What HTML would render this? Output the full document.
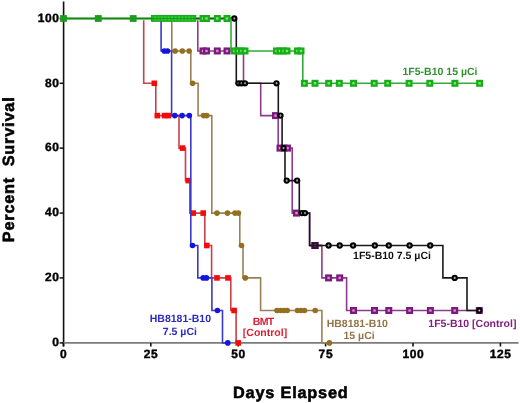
<!DOCTYPE html>
<html><head><meta charset="utf-8"><style>
html,body{margin:0;padding:0;background:#fff;}
svg{display:block;will-change:transform;}
text{font-family:"Liberation Sans",sans-serif;font-weight:bold;text-rendering:geometricPrecision;}
.tk{font-size:12px;letter-spacing:0.6px;fill:#000;stroke:#000;stroke-width:0.4px;}
</style></head><body>
<svg width="520" height="403" viewBox="0 0 520 403">
<line x1="63.6" y1="1.5" x2="63.6" y2="346.5" stroke="#111" stroke-width="1.6"/>
<line x1="63" y1="342.9" x2="518.5" y2="342.9" stroke="#7b7b7b" stroke-width="1.8"/>
<line x1="59.6" y1="18.5" x2="63.6" y2="18.5" stroke="#111" stroke-width="1.5"/>
<text x="59.60" y="21.8" text-anchor="end" class="tk">100</text>
<line x1="59.6" y1="83.3" x2="63.6" y2="83.3" stroke="#111" stroke-width="1.5"/>
<text x="59.60" y="86.6" text-anchor="end" class="tk">80</text>
<line x1="59.6" y1="148.1" x2="63.6" y2="148.1" stroke="#111" stroke-width="1.5"/>
<text x="59.60" y="151.4" text-anchor="end" class="tk">60</text>
<line x1="59.6" y1="213.1" x2="63.6" y2="213.1" stroke="#111" stroke-width="1.5"/>
<text x="59.60" y="216.4" text-anchor="end" class="tk">40</text>
<line x1="59.6" y1="277.9" x2="63.6" y2="277.9" stroke="#111" stroke-width="1.5"/>
<text x="59.60" y="281.2" text-anchor="end" class="tk">20</text>
<line x1="59.6" y1="342.9" x2="63.6" y2="342.9" stroke="#111" stroke-width="1.5"/>
<text x="59.60" y="346.2" text-anchor="end" class="tk">0</text>
<line x1="63.4" y1="342.9" x2="63.4" y2="346.5" stroke="#111" stroke-width="1.6"/>
<text x="63.70" y="358.4" text-anchor="middle" class="tk">0</text>
<line x1="150.8" y1="342.9" x2="150.8" y2="346.5" stroke="#111" stroke-width="1.6"/>
<text x="151.10" y="358.4" text-anchor="middle" class="tk">25</text>
<line x1="238.2" y1="342.9" x2="238.2" y2="346.5" stroke="#111" stroke-width="1.6"/>
<text x="238.50" y="358.4" text-anchor="middle" class="tk">50</text>
<line x1="325.6" y1="342.9" x2="325.6" y2="346.5" stroke="#111" stroke-width="1.6"/>
<text x="325.90" y="358.4" text-anchor="middle" class="tk">75</text>
<line x1="413.0" y1="342.9" x2="413.0" y2="346.5" stroke="#111" stroke-width="1.6"/>
<text x="413.30" y="358.4" text-anchor="middle" class="tk">100</text>
<line x1="500.4" y1="342.9" x2="500.4" y2="346.5" stroke="#111" stroke-width="1.6"/>
<text x="500.70" y="358.4" text-anchor="middle" class="tk">125</text>
<path d="M63.4,18.5 H171.8 V50.95 H190.8 V83.3 H198.1 V115.6 H211.8 V213.1 H239.8 V245.5 H243 V277.9 H260.6 V310.5 H321.9 V342.9 H329.4" fill="none" stroke="#9a8058" stroke-width="1.6"/>
<circle cx="175.10" cy="50.95" r="2.8" fill="#94701e"/>
<circle cx="182.30" cy="50.95" r="2.8" fill="#94701e"/>
<circle cx="189.10" cy="50.95" r="2.8" fill="#94701e"/>
<circle cx="192.60" cy="83.30" r="2.8" fill="#94701e"/>
<circle cx="203.60" cy="115.60" r="2.8" fill="#94701e"/>
<circle cx="206.80" cy="115.60" r="2.8" fill="#94701e"/>
<circle cx="217.00" cy="213.10" r="2.8" fill="#94701e"/>
<circle cx="227.50" cy="213.10" r="2.8" fill="#94701e"/>
<circle cx="235.00" cy="213.10" r="2.8" fill="#94701e"/>
<circle cx="238.40" cy="213.10" r="2.8" fill="#94701e"/>
<circle cx="241.50" cy="245.50" r="2.8" fill="#94701e"/>
<circle cx="245.30" cy="277.90" r="2.8" fill="#94701e"/>
<circle cx="277.00" cy="310.50" r="2.8" fill="#94701e"/>
<circle cx="280.50" cy="310.50" r="2.8" fill="#94701e"/>
<circle cx="284.00" cy="310.50" r="2.8" fill="#94701e"/>
<circle cx="287.20" cy="310.50" r="2.8" fill="#94701e"/>
<circle cx="297.50" cy="310.50" r="2.8" fill="#94701e"/>
<circle cx="301.00" cy="310.50" r="2.8" fill="#94701e"/>
<circle cx="304.50" cy="310.50" r="2.8" fill="#94701e"/>
<circle cx="315.20" cy="310.50" r="2.8" fill="#94701e"/>
<circle cx="329.40" cy="342.90" r="2.8" fill="#94701e"/>
<path d="M63.4,18.5 H143.7 V83.3 H155.8 V115.6 H179 V148.1 H185.5 V180.6 H189.8 V213.1 H204.8 V245.5 H211.6 V277.9 H230.8 V310.5 H236.1 V342.9 H238" fill="none" stroke="#c8404a" stroke-width="1.6"/>
<rect x="151.50" y="80.50" width="5.6" height="5.6" fill="#f40c0c"/>
<rect x="154.50" y="112.80" width="5.6" height="5.6" fill="#f40c0c"/>
<rect x="161.70" y="112.80" width="5.6" height="5.6" fill="#f40c0c"/>
<rect x="165.70" y="112.80" width="5.6" height="5.6" fill="#f40c0c"/>
<rect x="179.70" y="145.30" width="5.6" height="5.6" fill="#f40c0c"/>
<rect x="185.50" y="177.80" width="5.6" height="5.6" fill="#f40c0c"/>
<rect x="190.40" y="210.30" width="5.6" height="5.6" fill="#f40c0c"/>
<rect x="200.40" y="210.30" width="5.6" height="5.6" fill="#f40c0c"/>
<rect x="204.00" y="242.70" width="5.6" height="5.6" fill="#f40c0c"/>
<rect x="214.20" y="275.10" width="5.6" height="5.6" fill="#f40c0c"/>
<rect x="225.20" y="275.10" width="5.6" height="5.6" fill="#f40c0c"/>
<rect x="231.30" y="307.70" width="5.6" height="5.6" fill="#f40c0c"/>
<rect x="235.40" y="340.10" width="5.6" height="5.6" fill="#f40c0c"/>
<path d="M63.4,18.5 H161.1 V50.95 H171.6 V115.6 H190.8 V245.5 H197.8 V277.9 H211.9 V310.5 H222.5 V342.9 H227.8" fill="none" stroke="#3a3ac4" stroke-width="1.6"/>
<circle cx="164.30" cy="50.95" r="2.8" fill="#1414dc"/>
<circle cx="167.50" cy="50.95" r="2.8" fill="#1414dc"/>
<circle cx="174.80" cy="115.60" r="2.8" fill="#1414dc"/>
<circle cx="182.10" cy="115.60" r="2.8" fill="#1414dc"/>
<circle cx="189.30" cy="115.60" r="2.8" fill="#1414dc"/>
<circle cx="192.50" cy="245.50" r="2.8" fill="#1414dc"/>
<circle cx="203.20" cy="277.90" r="2.8" fill="#1414dc"/>
<circle cx="206.50" cy="277.90" r="2.8" fill="#1414dc"/>
<circle cx="217.40" cy="310.50" r="2.8" fill="#1414dc"/>
<circle cx="227.80" cy="342.90" r="2.8" fill="#1414dc"/>
<path d="M63.4,18.5 H197.8 V50.95 H243.5 V83.3 H260.7 V115.6 H278.2 V148.1 H292.2 V213.1 H309.6 V245.5 H321.9 V277.9 H346.6 V310.5 H479.3" fill="none" stroke="#8c3c8c" stroke-width="1.6"/>
<rect x="200.65" y="48.60" width="4.70" height="4.70" fill="#d890d8" stroke="#7a1a7a" stroke-width="2.3"/>
<rect x="204.15" y="48.60" width="4.70" height="4.70" fill="#d890d8" stroke="#7a1a7a" stroke-width="2.3"/>
<rect x="214.95" y="48.60" width="4.70" height="4.70" fill="#d890d8" stroke="#7a1a7a" stroke-width="2.3"/>
<rect x="224.65" y="48.60" width="4.70" height="4.70" fill="#d890d8" stroke="#7a1a7a" stroke-width="2.3"/>
<rect x="273.15" y="113.25" width="4.70" height="4.70" fill="#d890d8" stroke="#7a1a7a" stroke-width="2.3"/>
<rect x="277.65" y="145.75" width="4.70" height="4.70" fill="#d890d8" stroke="#7a1a7a" stroke-width="2.3"/>
<rect x="281.65" y="145.75" width="4.70" height="4.70" fill="#d890d8" stroke="#7a1a7a" stroke-width="2.3"/>
<rect x="285.15" y="145.75" width="4.70" height="4.70" fill="#d890d8" stroke="#7a1a7a" stroke-width="2.3"/>
<rect x="294.15" y="210.75" width="4.70" height="4.70" fill="#d890d8" stroke="#7a1a7a" stroke-width="2.3"/>
<rect x="312.65" y="243.15" width="4.70" height="4.70" fill="#d890d8" stroke="#7a1a7a" stroke-width="2.3"/>
<rect x="326.25" y="275.55" width="4.70" height="4.70" fill="#d890d8" stroke="#7a1a7a" stroke-width="2.3"/>
<rect x="337.35" y="275.55" width="4.70" height="4.70" fill="#d890d8" stroke="#7a1a7a" stroke-width="2.3"/>
<rect x="351.15" y="308.15" width="4.70" height="4.70" fill="#d890d8" stroke="#7a1a7a" stroke-width="2.3"/>
<rect x="372.15" y="308.15" width="4.70" height="4.70" fill="#d890d8" stroke="#7a1a7a" stroke-width="2.3"/>
<rect x="386.45" y="308.15" width="4.70" height="4.70" fill="#d890d8" stroke="#7a1a7a" stroke-width="2.3"/>
<rect x="407.25" y="308.15" width="4.70" height="4.70" fill="#d890d8" stroke="#7a1a7a" stroke-width="2.3"/>
<rect x="428.05" y="308.15" width="4.70" height="4.70" fill="#d890d8" stroke="#7a1a7a" stroke-width="2.3"/>
<rect x="452.35" y="308.15" width="4.70" height="4.70" fill="#d890d8" stroke="#7a1a7a" stroke-width="2.3"/>
<rect x="476.95" y="308.15" width="4.70" height="4.70" fill="#d890d8" stroke="#7a1a7a" stroke-width="2.3"/>
<path d="M63.4,18.5 H236.3 V83.3 H278.3 V115.6 H282.1 V148.1 H285 V180.6 H299.3 V213.1 H309.6 V245.5 H442.9 V277.9 H467 V310.5 H479.3" fill="none" stroke="#1a1a1a" stroke-width="1.6"/>
<circle cx="234.30" cy="18.50" r="2.10" fill="#fff" fill-opacity="0.6" stroke="#000000" stroke-width="2.1"/>
<circle cx="238.50" cy="83.30" r="2.10" fill="#fff" fill-opacity="0.6" stroke="#000000" stroke-width="2.1"/>
<circle cx="241.50" cy="83.30" r="2.10" fill="#fff" fill-opacity="0.6" stroke="#000000" stroke-width="2.1"/>
<circle cx="245.00" cy="83.30" r="2.10" fill="#fff" fill-opacity="0.6" stroke="#000000" stroke-width="2.1"/>
<circle cx="276.50" cy="83.30" r="2.10" fill="#fff" fill-opacity="0.6" stroke="#000000" stroke-width="2.1"/>
<circle cx="280.50" cy="115.60" r="2.10" fill="#fff" fill-opacity="0.6" stroke="#000000" stroke-width="2.1"/>
<circle cx="283.60" cy="148.10" r="2.10" fill="#fff" fill-opacity="0.6" stroke="#000000" stroke-width="2.1"/>
<circle cx="286.70" cy="180.60" r="2.10" fill="#fff" fill-opacity="0.6" stroke="#000000" stroke-width="2.1"/>
<circle cx="297.10" cy="180.60" r="2.10" fill="#fff" fill-opacity="0.6" stroke="#000000" stroke-width="2.1"/>
<circle cx="302.00" cy="213.10" r="2.10" fill="#fff" fill-opacity="0.6" stroke="#000000" stroke-width="2.1"/>
<circle cx="305.00" cy="213.10" r="2.10" fill="#fff" fill-opacity="0.6" stroke="#000000" stroke-width="2.1"/>
<circle cx="328.60" cy="245.50" r="2.10" fill="#fff" fill-opacity="0.6" stroke="#000000" stroke-width="2.1"/>
<circle cx="339.70" cy="245.50" r="2.10" fill="#fff" fill-opacity="0.6" stroke="#000000" stroke-width="2.1"/>
<circle cx="353.10" cy="245.50" r="2.10" fill="#fff" fill-opacity="0.6" stroke="#000000" stroke-width="2.1"/>
<circle cx="374.80" cy="245.50" r="2.10" fill="#fff" fill-opacity="0.6" stroke="#000000" stroke-width="2.1"/>
<circle cx="388.80" cy="245.50" r="2.10" fill="#fff" fill-opacity="0.6" stroke="#000000" stroke-width="2.1"/>
<circle cx="409.60" cy="245.50" r="2.10" fill="#fff" fill-opacity="0.6" stroke="#000000" stroke-width="2.1"/>
<circle cx="430.20" cy="245.50" r="2.10" fill="#fff" fill-opacity="0.6" stroke="#000000" stroke-width="2.1"/>
<circle cx="454.70" cy="277.90" r="2.10" fill="#fff" fill-opacity="0.6" stroke="#000000" stroke-width="2.1"/>
<circle cx="479.30" cy="310.50" r="2.10" fill="#fff" fill-opacity="0.6" stroke="#000000" stroke-width="2.1"/>
<rect x="312.65" y="243.15" width="4.70" height="4.70" fill="#7a4a7a" stroke="#3c0c3c" stroke-width="2.3"/>
<line x1="309.6" y1="245.5" x2="321.9" y2="245.5" stroke="#1a1a1a" stroke-width="1.6"/>
<line x1="64.5" y1="18.5" x2="231" y2="18.5" stroke="#fff" stroke-width="3.4"/>
<line x1="64.5" y1="18.5" x2="231" y2="18.5" stroke="#8fd88f" stroke-width="3.0"/>
<line x1="63.4" y1="18.5" x2="196" y2="18.5" stroke="#1c801c" stroke-width="1.5"/>
<line x1="196" y1="18.5" x2="231" y2="18.5" stroke="#224a22" stroke-width="1.6"/>
<rect x="60.10" y="15.10" width="6.8" height="6.8" fill="#1e9a1e"/>
<rect x="94.90" y="15.10" width="6.8" height="6.8" fill="#1e9a1e"/>
<rect x="129.80" y="15.10" width="6.8" height="6.8" fill="#1e9a1e"/>
<path d="M231,18.5 V50.95 H302.8 V83.3 H479.6" fill="none" stroke="#34ac3a" stroke-width="1.6"/>
<rect x="200.65" y="16.15" width="4.70" height="4.70" fill="#7ee07e" stroke="#16ae16" stroke-width="2.3"/>
<rect x="204.15" y="16.15" width="4.70" height="4.70" fill="#7ee07e" stroke="#16ae16" stroke-width="2.3"/>
<rect x="214.95" y="16.15" width="4.70" height="4.70" fill="#7ee07e" stroke="#16ae16" stroke-width="2.3"/>
<rect x="224.65" y="16.15" width="4.70" height="4.70" fill="#7ee07e" stroke="#16ae16" stroke-width="2.3"/>
<rect x="232.15" y="48.60" width="4.70" height="4.70" fill="#7ee07e" stroke="#16ae16" stroke-width="2.3"/>
<rect x="235.65" y="48.60" width="4.70" height="4.70" fill="#7ee07e" stroke="#16ae16" stroke-width="2.3"/>
<rect x="239.15" y="48.60" width="4.70" height="4.70" fill="#7ee07e" stroke="#16ae16" stroke-width="2.3"/>
<rect x="242.65" y="48.60" width="4.70" height="4.70" fill="#7ee07e" stroke="#16ae16" stroke-width="2.3"/>
<rect x="274.15" y="48.60" width="4.70" height="4.70" fill="#7ee07e" stroke="#16ae16" stroke-width="2.3"/>
<rect x="277.65" y="48.60" width="4.70" height="4.70" fill="#7ee07e" stroke="#16ae16" stroke-width="2.3"/>
<rect x="281.15" y="48.60" width="4.70" height="4.70" fill="#7ee07e" stroke="#16ae16" stroke-width="2.3"/>
<rect x="284.65" y="48.60" width="4.70" height="4.70" fill="#7ee07e" stroke="#16ae16" stroke-width="2.3"/>
<rect x="295.15" y="48.60" width="4.70" height="4.70" fill="#7ee07e" stroke="#16ae16" stroke-width="2.3"/>
<rect x="298.65" y="48.60" width="4.70" height="4.70" fill="#7ee07e" stroke="#16ae16" stroke-width="2.3"/>
<rect x="302.05" y="80.95" width="4.70" height="4.70" fill="#7ee07e" stroke="#16ae16" stroke-width="2.3"/>
<rect x="312.65" y="80.95" width="4.70" height="4.70" fill="#7ee07e" stroke="#16ae16" stroke-width="2.3"/>
<rect x="326.35" y="80.95" width="4.70" height="4.70" fill="#7ee07e" stroke="#16ae16" stroke-width="2.3"/>
<rect x="336.95" y="80.95" width="4.70" height="4.70" fill="#7ee07e" stroke="#16ae16" stroke-width="2.3"/>
<rect x="351.15" y="80.95" width="4.70" height="4.70" fill="#7ee07e" stroke="#16ae16" stroke-width="2.3"/>
<rect x="371.85" y="80.95" width="4.70" height="4.70" fill="#7ee07e" stroke="#16ae16" stroke-width="2.3"/>
<rect x="385.35" y="80.95" width="4.70" height="4.70" fill="#7ee07e" stroke="#16ae16" stroke-width="2.3"/>
<rect x="406.75" y="80.95" width="4.70" height="4.70" fill="#7ee07e" stroke="#16ae16" stroke-width="2.3"/>
<rect x="427.45" y="80.95" width="4.70" height="4.70" fill="#7ee07e" stroke="#16ae16" stroke-width="2.3"/>
<rect x="452.55" y="80.95" width="4.70" height="4.70" fill="#7ee07e" stroke="#16ae16" stroke-width="2.3"/>
<rect x="477.25" y="80.95" width="4.70" height="4.70" fill="#7ee07e" stroke="#16ae16" stroke-width="2.3"/>
<rect x="151.4" y="15.4" width="44.4" height="5.9" fill="#18b818" stroke="#12a012" stroke-width="0.9"/>
<line x1="151.4" y1="18.5" x2="195.8" y2="18.5" stroke="#0f8f0f" stroke-width="1.2" opacity="0.7"/>
<rect x="154.30" y="16.60" width="1.8" height="1.5" fill="#7ae47a" opacity="0.35"/>
<rect x="154.30" y="19.00" width="1.8" height="1.5" fill="#7ae47a" opacity="0.35"/>
<rect x="157.70" y="16.60" width="1.8" height="1.5" fill="#7ae47a" opacity="0.35"/>
<rect x="157.70" y="19.00" width="1.8" height="1.5" fill="#7ae47a" opacity="0.35"/>
<rect x="161.10" y="16.60" width="1.8" height="1.5" fill="#7ae47a" opacity="0.35"/>
<rect x="161.10" y="19.00" width="1.8" height="1.5" fill="#7ae47a" opacity="0.35"/>
<rect x="164.50" y="16.60" width="1.8" height="1.5" fill="#7ae47a" opacity="0.35"/>
<rect x="164.50" y="19.00" width="1.8" height="1.5" fill="#7ae47a" opacity="0.35"/>
<rect x="167.90" y="16.60" width="1.8" height="1.5" fill="#7ae47a" opacity="0.35"/>
<rect x="167.90" y="19.00" width="1.8" height="1.5" fill="#7ae47a" opacity="0.35"/>
<rect x="171.30" y="16.60" width="1.8" height="1.5" fill="#7ae47a" opacity="0.35"/>
<rect x="171.30" y="19.00" width="1.8" height="1.5" fill="#7ae47a" opacity="0.35"/>
<rect x="174.70" y="16.60" width="1.8" height="1.5" fill="#7ae47a" opacity="0.35"/>
<rect x="174.70" y="19.00" width="1.8" height="1.5" fill="#7ae47a" opacity="0.35"/>
<rect x="178.10" y="16.60" width="1.8" height="1.5" fill="#7ae47a" opacity="0.35"/>
<rect x="178.10" y="19.00" width="1.8" height="1.5" fill="#7ae47a" opacity="0.35"/>
<rect x="181.50" y="16.60" width="1.8" height="1.5" fill="#7ae47a" opacity="0.35"/>
<rect x="181.50" y="19.00" width="1.8" height="1.5" fill="#7ae47a" opacity="0.35"/>
<rect x="184.90" y="16.60" width="1.8" height="1.5" fill="#7ae47a" opacity="0.35"/>
<rect x="184.90" y="19.00" width="1.8" height="1.5" fill="#7ae47a" opacity="0.35"/>
<rect x="188.30" y="16.60" width="1.8" height="1.5" fill="#7ae47a" opacity="0.35"/>
<rect x="188.30" y="19.00" width="1.8" height="1.5" fill="#7ae47a" opacity="0.35"/>
<rect x="191.70" y="16.60" width="1.8" height="1.5" fill="#7ae47a" opacity="0.35"/>
<rect x="191.70" y="19.00" width="1.8" height="1.5" fill="#7ae47a" opacity="0.35"/>
<text x="440.00" y="74.5" text-anchor="middle" fill="#2e922e" style="font-size:10.5px;letter-spacing:0.0px">1F5-B10 15 µCi</text>
<text x="392.00" y="259.4" text-anchor="middle" fill="#111" style="font-size:10.5px;letter-spacing:0.0px">1F5-B10 7.5 µCi</text>
<text x="180.40" y="322.1" text-anchor="middle" fill="#2a2ac0" style="font-size:10.5px;letter-spacing:0.0px">HB8181-B10</text>
<text x="179.90" y="335.2" text-anchor="middle" fill="#2a2ac0" style="font-size:10.5px;letter-spacing:0.0px">7.5 µCi</text>
<text x="263.20" y="325.2" text-anchor="middle" fill="#dc1e32" style="font-size:10.5px;letter-spacing:-0.6px">BMT</text>
<text x="265.00" y="336.4" text-anchor="middle" fill="#dc1e32" style="font-size:10.5px;letter-spacing:0.0px">[Control]</text>
<text x="357.30" y="326.6" text-anchor="middle" fill="#917448" style="font-size:10.5px;letter-spacing:0.0px">HB8181-B10</text>
<text x="359.10" y="339.3" text-anchor="middle" fill="#917448" style="font-size:10.5px;letter-spacing:0.0px">15 µCi</text>
<text x="472.40" y="326.9" text-anchor="middle" fill="#82207f" style="font-size:10.5px;letter-spacing:0.0px">1F5-B10 [Control]</text>
<text x="290.80" y="398" text-anchor="middle" style="font-size:16.3px;letter-spacing:0.8px" fill="#000" stroke="#000" stroke-width="0.55">Days Elapsed</text>
<text transform="translate(13.9,169.40) rotate(-90)" x="0" y="0" text-anchor="middle" style="font-size:16.3px;letter-spacing:0.8px;white-space:pre" fill="#000" stroke="#000" stroke-width="0.55">Percent  Survival</text>
</svg>
</body></html>
